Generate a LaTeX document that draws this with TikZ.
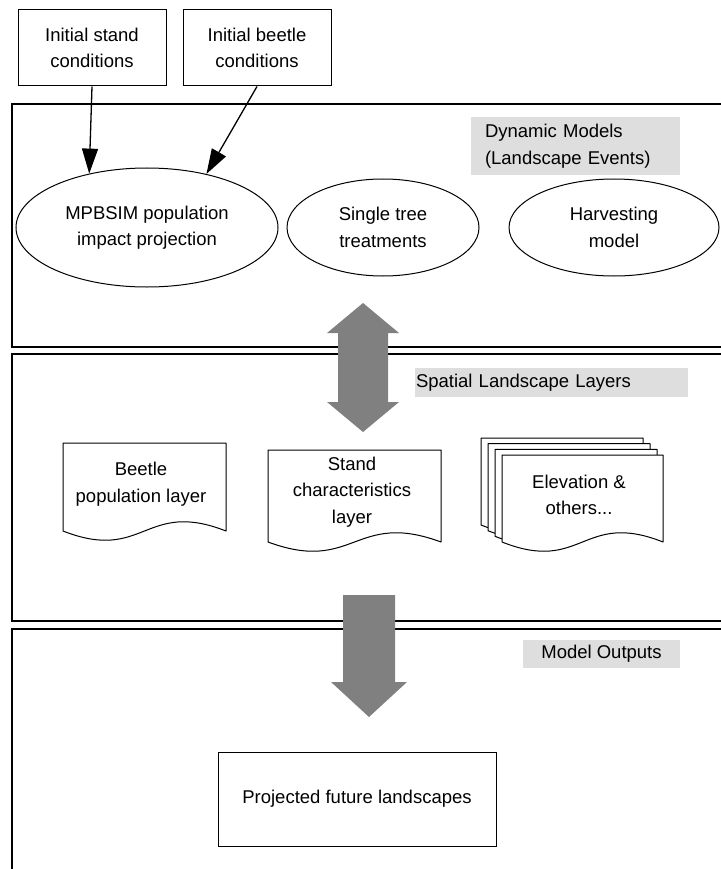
\documentclass[tikz,border=0pt]{standalone}
\usepackage{fontspec}
\setmainfont{Liberation Sans}
\usetikzlibrary{arrows.meta,shapes.geometric}
\definecolor{labelgray}{RGB}{222,222,222}
\definecolor{arrowgray}{RGB}{128,128,128}
\newcommand{\docoutline}[4]{%
  \draw[docline] (#1,#4) -- (#1,#2) -- (#3,#2) -- (#3,#4)
    .. controls ({(#1+#3)/2},{#4-32}) and ({(#1+#3)/2},{#4+32}) .. (#1,#4) -- cycle;}
\begin{document}
\begin{tikzpicture}[x=1pt,y=-1pt,
  txt/.style={font=\fontsize{18.5}{26.5}\selectfont, align=center, inner sep=0pt},
  box/.style={txt, draw, line width=1pt, rectangle},
  ell/.style={txt, draw, line width=1pt, ellipse},
  lbl/.style={txt, fill=labelgray, rectangle},
  panel/.style={draw=black, line width=1.6pt},
  docline/.style={draw=black, fill=white, line width=1pt, line join=round},
  conn/.style={draw=black, line width=1.3pt, -{Triangle[length=25pt,width=16pt]}},
  blockarrow/.style={fill=arrowgray, draw=none}]
\useasboundingbox (0,0) rectangle (720,869);

% panels
\draw[panel] (721,104) -- (12,104) -- (12,347) -- (721,347);
\draw[panel] (721,354) -- (12,354) -- (12,621) -- (721,621);
\draw[panel] (721,629) -- (12,629) -- (12,870);

% initial condition boxes
\node[box, minimum width=148pt, minimum height=76pt] (stand) at (92,48) {Initial stand\\conditions};
\node[box, minimum width=148pt, minimum height=76pt] (beetle) at (257,48) {Initial beetle\\conditions};

% dynamic models
\node[ell, minimum width=262pt, minimum height=119pt] (mpb) at (147,227.5) {MPBSIM population\\impact projection};
\node[ell, minimum width=192pt, minimum height=97pt] (single) at (383,227.5) {Single tree\\treatments};
\node[ell, minimum width=210pt, minimum height=97pt] (harvest) at (614,227.5) {Harvesting\\model};

\draw[conn] (stand.south) -- (mpb.137.4);
\draw[conn] (beetle.south) -- (mpb.42);

% labels
\node[lbl, text width=181pt, inner xsep=14pt, minimum height=58pt, align=left] (dyn) at (575.5,146) {Dynamic Models\\(Landscape Events)};
\node[lbl, text width=271pt, inner xsep=1pt, minimum height=29pt, align=left] (spatial) at (551.5,382.5) {Spatial Landscape Layers};
\node[lbl, minimum width=157pt, minimum height=28pt] (outputs) at (601.5,654) {Model Outputs};

% spatial layers
\docoutline{63}{443}{226}{531}
\node[txt] (beetlelayer) at (141,484) {Beetle\\population layer};
\docoutline{268}{450}{441}{542}
\node[txt] (standlayer) at (352,492) {Stand\\characteristics\\layer};
\docoutline{481}{438}{643}{525}
\docoutline{488}{443.7}{650}{530.7}
\docoutline{495}{449.3}{657}{536.3}
\docoutline{502}{455}{663}{542}
\node[txt] (elevlayer) at (579,495) {Elevation \&\\others...};

% output
\node[box, minimum width=278pt, minimum height=94pt] (proj) at (357,799) {Projected future landscapes};

% block arrows
\fill[blockarrow] (363,303) -- (399,333) -- (388,333) -- (388,402) -- (399,402) -- (363,432)
  -- (327,402) -- (338,402) -- (338,333) -- (327,333) -- cycle;
\fill[blockarrow] (343,595) -- (395,595) -- (395,682) -- (407,682) -- (369,717)
  -- (331,682) -- (343,682) -- cycle;
\end{tikzpicture}
\end{document}
